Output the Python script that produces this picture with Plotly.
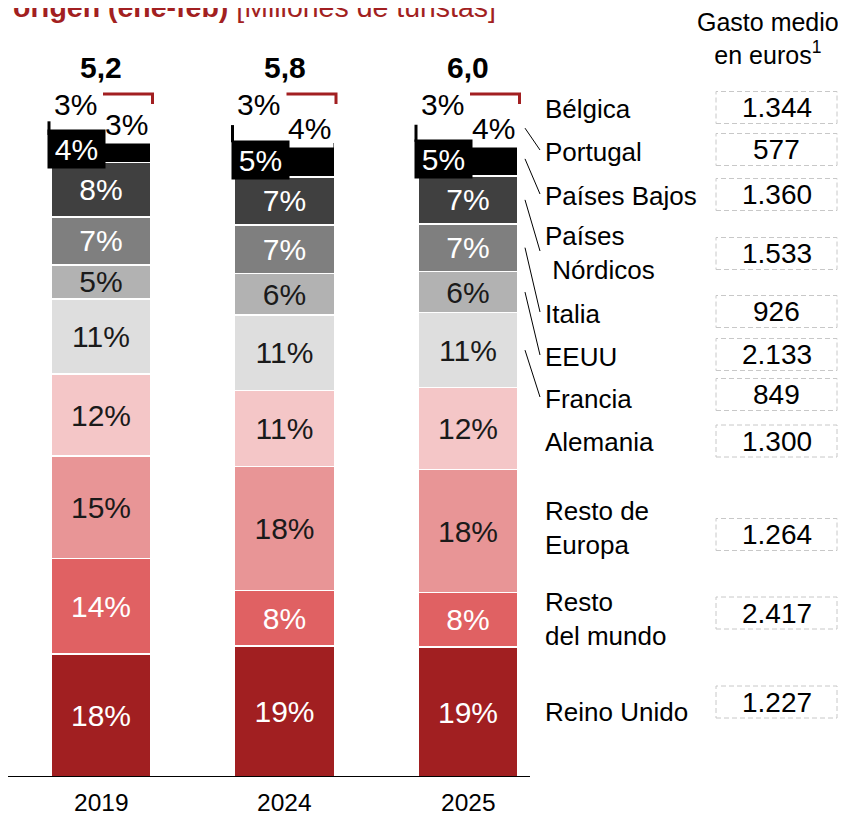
import plotly.graph_objects as go

# ---------------- data ----------------
years = ["2019", "2024", "2025"]
totals = ["5,2", "5,8", "6,0"]

reino_unido = [18, 19, 19]
resto_mundo = [14, 8, 8]
resto_europa = [15, 18, 18]
alemania = [12, 11, 12]
francia = [11, 11, 11]
eeuu = [5, 6, 6]
italia = [7, 7, 7]
nordicos = [8, 7, 7]
paises_bajos = [4, 5, 5]
portugal = [3, 4, 4]
belgica = [3, 3, 3]

countries = ["Reino Unido", "Resto del mundo", "Resto de Europa", "Alemania", "Francia",
             "EEUU", "Italia", "Países Nórdicos", "Países Bajos", "Portugal", "Bélgica"]
country_labels = ["Reino Unido", "Resto<br>del mundo", "Resto de<br>Europa", "Alemania", "Francia",
                  "EEUU", "Italia", "Países<br>\u00a0Nórdicos", "Países Bajos", "Portugal", "Bélgica"]
gasto_medio = ["1.227", "2.417", "1.264", "1.300", "849", "2.133", "926", "1.533", "1.360", "577", "1.344"]

series = [reino_unido, resto_mundo, resto_europa, alemania, francia, eeuu,
          italia, nordicos, paises_bajos, portugal, belgica]

# ---------------- style ----------------
colors = ["#A11F21", "#E06163", "#E89596", "#F4C6C7", "#DEDEDE", "#B2B2B2",
          "#7F7F7F", "#404040", "#000000", "#FFFFFF", "#FFFFFF"]
text_colors = ["white", "white", "#1a1a1a", "#1a1a1a", "#1a1a1a", "#1a1a1a",
               "white", "white", "white", "black", "black"]
DARK_RED = "#A21F21"
FONT = "Liberation Sans, Arial, sans-serif"

PAGE_MARGIN = 8                      # default body margin of the html page
W, H = 846 - PAGE_MARGIN, 815 - PAGE_MARGIN
PLOT_BOTTOM_PAGE = 777
PLOT_BOTTOM = PLOT_BOTTOM_PAGE - PAGE_MARGIN
PPU_Y = 6.83
PPU_X = 183.5
BAR0_PX = 101 - PAGE_MARGIN
YMAX = PLOT_BOTTOM / PPU_Y
BAR_W = 100 / PPU_X

# page-pixel positions of the side texts
label_px_y = [712, 619, 528, 442, 399, 357, 314, 253, 196, 152, 109]
value_px_y = [702, 613, 534.5, 441, 394.5, 354.5, 311.5, 253.5, 194.5, 149.5, 107.5]
connector_idx = [4, 5, 6, 7, 8, 9]


def yd(pix):
    return (PLOT_BOTTOM_PAGE - pix) / PPU_Y


def xp(pix):
    return (pix - PAGE_MARGIN) / W


def yp(pix):
    return (PLOT_BOTTOM_PAGE - pix) / PLOT_BOTTOM


def off(pix):
    return pix / PPU_X


xs = list(range(len(years)))
fig = go.Figure()
for k, vals in enumerate(series):
    inside = k < 8
    fig.add_trace(go.Bar(
        x=xs, y=vals, name=countries[k], width=BAR_W,
        marker=dict(color=colors[k], line=dict(color="white", width=1.5)),
        text=[f"{v}%" for v in vals] if inside else None,
        texttemplate="%{text}" if inside else None,
        textposition="inside" if inside else "none",
        insidetextanchor="middle", textangle=0,
        textfont=dict(size=30, color=text_colors[k], family=FONT),
        hoverinfo="skip",
    ))

# normalized cumulative positions (100% stacked)
norm_bounds = []
for i in xs:
    tot = sum(s[i] for s in series)
    c = 0.0
    b = []
    for s in series:
        lo = c
        c += s[i] / tot * 100
        b.append((lo, c))
    norm_bounds.append(b)

ann = []
shapes = []


def A(**kw):
    kw.setdefault("showarrow", False)
    kw.setdefault("xanchor", "center")
    kw.setdefault("yanchor", "middle")
    ann.append(kw)


# totals and year labels
for i in xs:
    A(x=i, y=100, xref="x", yref="y", text=f"<b>{totals[i]}</b>", yshift=27,
      font=dict(size=30, color="black"))
    A(x=i, y=0, xref="x", yref="y", text=years[i], yshift=-25,
      font=dict(size=24.5, color="black"))

# top small segments: Bélgica, Portugal, Países Bajos
for i in xs:
    lo, hi = norm_bounds[i][10]
    A(x=i - off(26), y=(lo + hi) / 2, xref="x", yref="y", text=f"{belgica[i]}%",
      font=dict(size=30, color="black"))
    lo, hi = norm_bounds[i][9]
    A(x=i + off(25), y=(lo + hi) / 2, xref="x", yref="y", text=f"{portugal[i]}%",
      bgcolor="white", borderpad=2, font=dict(size=30, color="black"))
    plo, phi = norm_bounds[i][8]
    pmid = sum(norm_bounds[i][9]) / 2 + 0.5
    shapes.append(dict(type="line", xref="x", yref="y", x0=i - BAR_W / 2 - off(2), x1=i - BAR_W / 2 - off(2),
                       y0=phi, y1=pmid, line=dict(color="black", width=3)))
    A(x=i - BAR_W / 2 - off(4), y=(plo + phi) / 2, xref="x", yref="y", xanchor="left",
      text=f"{paises_bajos[i]}%", bgcolor="black", width=53, height=34,
      borderpad=2, align="center", font=dict(size=30, color="white"))
    shapes.append(dict(type="path", xref="x", yref="y",
                       path=f"M {i + off(2)} 100 L {i + BAR_W / 2 + off(1.5)} 100 L {i + BAR_W / 2 + off(1.5)} {100 - 10 / PPU_Y}",
                       line=dict(color=DARK_RED, width=3)))

# connectors on last bar
last = xs[-1]
for k in connector_idx:
    lo, hi = norm_bounds[last][k]
    shapes.append(dict(type="line", xref="x", yref="y",
                       x0=last + BAR_W / 2 + off(7), y0=(lo + hi) / 2,
                       x1=last + BAR_W / 2 + off(22), y1=yd(label_px_y[k] - 2),
                       line=dict(color="black", width=1)))

# right-side labels and value boxes
for k in range(len(countries)):
    A(x=xp(543), y=yp(label_px_y[k]), xref="paper", yref="paper", xanchor="left",
      align="left", text=country_labels[k], font=dict(size=26, color="black"))
    shapes.append(dict(type="rect", xref="paper", yref="paper", x0=xp(716), x1=xp(837),
                       y0=yp(value_px_y[k] + 16), y1=yp(value_px_y[k] - 16),
                       line=dict(color="#C8C8C8", width=1, dash="5px,3px")))
    A(x=xp(776.5), y=yp(value_px_y[k]), xref="paper", yref="paper",
      text=gasto_medio[k], font=dict(size=28, color="black"))

# header of value column
A(x=xp(768), y=yp(38), xref="paper", yref="paper",
  text="Gasto medio<br>en euros<sup>1</sup>", font=dict(size=25, color="black"))

# title (cut at top)
A(x=xp(11), y=yp(6.5), xref="paper", yref="paper", xanchor="left",
  text="<b>origen (ene-feb)</b> [Millones de turistas]", font=dict(size=28.5, color=DARK_RED))

# baseline
shapes.append(dict(type="line", xref="paper", yref="y", x0=xp(8), x1=xp(530), y0=0, y1=0,
                   line=dict(color="black", width=2)))

fig.update_layout(
    width=W, height=H,
    margin=dict(l=0, r=0, t=0, b=H - PLOT_BOTTOM),
    barmode="stack", barnorm="percent",
    uniformtext=dict(minsize=30, mode="show"),
    showlegend=False,
    plot_bgcolor="white", paper_bgcolor="white",
    font=dict(family=FONT, color="black"),
    xaxis=dict(range=[-BAR0_PX / PPU_X, (W - BAR0_PX) / PPU_X], visible=False, fixedrange=True),
    yaxis=dict(range=[0, YMAX], visible=False, fixedrange=True),
    annotations=ann, shapes=shapes,
)

fig.write_html("out.html")
